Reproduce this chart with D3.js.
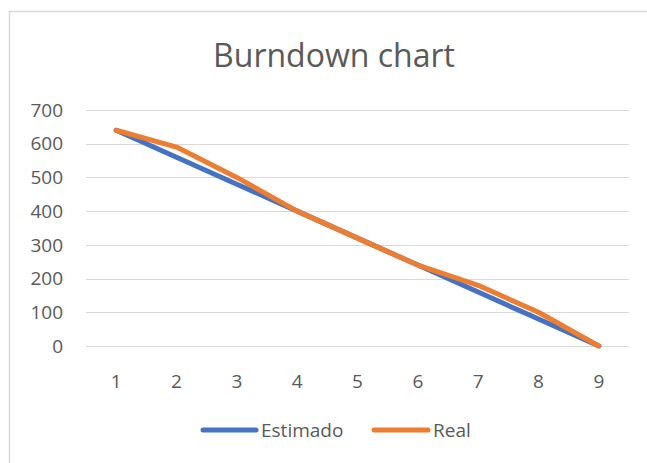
<!DOCTYPE html>
<html><head><meta charset="utf-8">
<script src="https://cdn.jsdelivr.net/npm/d3@7"></script>
<style>body{margin:0;background:#fff}svg{display:block}text{font-family:"Open Sans",sans-serif;fill:#595959}</style>
</head><body>
<svg id="c" width="647" height="463"></svg>
<script>
const categories = ["1","2","3","4","5","6","7","8","9"];
const estimado = [640,560,480,400,320,240,160,80,0];
const real = [640,590,500,400,320,240,180,100,0];
const yTicks = [0,100,200,300,400,500,600,700];
const seriesNames = ["Estimado","Real"];
const colors = ["#4472C4","#ED7D31"];

const svg = d3.select("#c");
svg.append("rect").attr("x",9.5).attr("y",11.5).attr("width",700).attr("height",500)
  .attr("fill","#fff").attr("stroke","#d9d9d9").attr("stroke-width",1.5);

const x = d3.scaleBand().domain(categories).range([86,629]);
const y = d3.scaleLinear().domain([0,700]).range([346,110]);

svg.append("text").attr("x",334).attr("y",67).attr("text-anchor","middle")
  .style("font-size","32px").text("Burndown chart");

const gy = svg.append("g");
gy.selectAll("line").data(yTicks).join("line")
  .attr("x1",86).attr("x2",629).attr("y1",d=>Math.round(y(d))+0.5).attr("y2",d=>Math.round(y(d))+0.5)
  .attr("stroke","#d9d9d9").attr("stroke-width",1.2);
gy.selectAll("text").data(yTicks).join("text")
  .attr("x",63).attr("y",d=>y(d)).attr("dy","0.35em").attr("text-anchor","end")
  .style("font-size","19px").text(d=>d);

svg.append("g").selectAll("text").data(categories).join("text")
  .attr("x",d=>x(d)+x.bandwidth()/2).attr("y",381).attr("dy","0.35em").attr("text-anchor","middle")
  .style("font-size","19px").text(d=>d);

const line = d3.line().x((d,i)=>x(categories[i])+x.bandwidth()/2).y(d=>y(d));
[estimado, real].forEach((s,k)=>{
  svg.append("path").attr("d",line(s)).attr("fill","none").attr("stroke",colors[k])
    .attr("stroke-width",5).attr("stroke-linecap","round").attr("stroke-linejoin","round");
});

const legend = [{x1:203,x2:256,tx:261},{x1:374,x2:428,tx:433}];
legend.forEach((L,k)=>{
  svg.append("line").attr("x1",L.x1).attr("x2",L.x2).attr("y1",430).attr("y2",430)
    .attr("stroke",colors[k]).attr("stroke-width",5).attr("stroke-linecap","round");
  svg.append("text").attr("x",L.tx).attr("y",430).attr("dy","0.35em").style("font-size","19px").text(seriesNames[k]);
});
</script>
</body></html>
